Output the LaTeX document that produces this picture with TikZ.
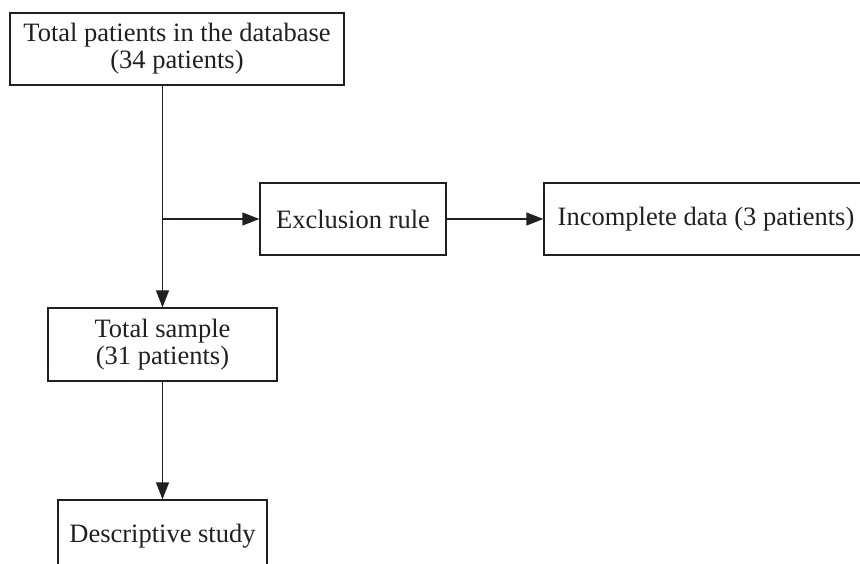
\documentclass[tikz,border=0pt]{standalone}
\usepackage{fontspec}
\setmainfont{Liberation Serif}
\usetikzlibrary{shapes,arrows.meta,positioning}
\definecolor{ink}{RGB}{35,31,32}
\tikzstyle{block} = [rectangle, draw=ink, text=ink, line width=1.3pt, inner sep=0pt, align=center,
    minimum height=72pt, font=\fontsize{26.5}{27}\selectfont]
\tikzstyle{line} = [draw=ink, line width=1.3pt, -{Triangle[length=17pt,width=13pt]}]

\begin{document}
\begin{tikzpicture}[x=1pt, y=-1pt, node distance=192pt]
	\useasboundingbox (0,0) rectangle (860,564);

		\node [block, minimum width=334pt] (database) at (177,49) {Total patients in the database\\(34 patients)};
		\node [block, minimum width=229pt, minimum height=73pt] (sample) at (162.5,344.5) {Total sample\\(31 patients)};
		\node [block, minimum width=209pt, minimum height=73pt, below of=sample] (study) {Descriptive study};

		\node [block, minimum width=186pt] (exclusion) at (353,219) {Exclusion rule};
		\node [block, minimum width=324pt, right of=exclusion, node distance=353pt] (incomplete) {Incomplete data (3 patients)};

		\coordinate (split) at (sample.north |- exclusion.west);

		\path [line] (sample.north |- database.south) -- (sample.north);
		\path [line] (split) -- (exclusion);
		\path [line] (exclusion) -- (incomplete);
		\path [line] (sample) -- (study);
	\end{tikzpicture}
\end{document}
